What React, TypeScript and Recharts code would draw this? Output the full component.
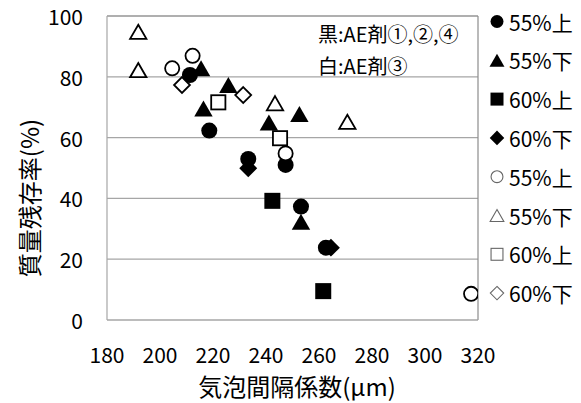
import React from 'react';
import {
  ScatterChart,
  Scatter,
  XAxis,
  YAxis,
  CartesianGrid,
  ReferenceLine,
  Legend,
  Label,
} from 'recharts';

const FONT = '"Noto Sans CJK JP", "Noto Sans", sans-serif';

// 気泡間隔係数 (μm) → x, 質量残存率 (%) → y
// 黒: AE剤①,②,④
const black55Upper = [
  { x: 211.3, y: 80.6 },
  { x: 218.6, y: 62.3 },
  { x: 233.3, y: 53.0 },
  { x: 247.4, y: 51.0 },
  { x: 253.2, y: 37.3 },
  { x: 262.6, y: 23.8 },
];
const black55Lower = [
  { x: 215.5, y: 82.8 },
  { x: 216.4, y: 69.6 },
  { x: 225.8, y: 77.3 },
  { x: 241.1, y: 65.0 },
  { x: 252.6, y: 67.8 },
  { x: 253.2, y: 32.3 },
];
const black60Upper = [
  { x: 242.4, y: 39.2 },
  { x: 261.6, y: 9.5 },
];
const black60Lower = [
  { x: 233.3, y: 49.9 },
  { x: 264.5, y: 23.8 },
];
// 白: AE剤③
const white55Upper = [
  { x: 204.6, y: 82.8 },
  { x: 212.3, y: 86.9 },
  { x: 247.4, y: 54.8 },
  { x: 317.4, y: 8.6 },
];
const white55Lower = [
  { x: 191.8, y: 94.8 },
  { x: 191.8, y: 82.2 },
  { x: 243.4, y: 71.3 },
  { x: 270.7, y: 65.2 },
];
const white60Upper = [
  { x: 222.0, y: 71.6 },
  { x: 245.3, y: 59.8 },
];
const white60Lower = [
  { x: 208.3, y: 77.3 },
  { x: 231.4, y: 74.0 },
];

const xTicks = [180, 200, 220, 240, 260, 280, 300, 320];
const yTicks = [0, 20, 40, 60, 80, 100];

const xTitle = '気泡間隔係数(μm)';
const yTitle = '質量残存率(%)';
const noteLines = ['黒:AE剤①,②,④', '白:AE剤③'];

type Kind = 'circle' | 'triangle' | 'square' | 'diamond';

interface SeriesDef {
  name: string;
  kind: Kind;
  filled: boolean;
  data: { x: number; y: number }[];
}

const series: SeriesDef[] = [
  { name: '55%上', kind: 'circle', filled: true, data: black55Upper },
  { name: '55%下', kind: 'triangle', filled: true, data: black55Lower },
  { name: '60%上', kind: 'square', filled: true, data: black60Upper },
  { name: '60%下', kind: 'diamond', filled: true, data: black60Lower },
  { name: '55%上', kind: 'circle', filled: false, data: white55Upper },
  { name: '55%下', kind: 'triangle', filled: false, data: white55Lower },
  { name: '60%上', kind: 'square', filled: false, data: white60Upper },
  { name: '60%下', kind: 'diamond', filled: false, data: white60Lower },
];

const GRID = '#a6a6a6';
const BORDER = '#8c8c8c';

function Marker({
  cx,
  cy,
  kind,
  filled,
  half,
  stroke,
  strokeWidth,
}: {
  cx: number;
  cy: number;
  kind: Kind;
  filled: boolean;
  half: number;
  stroke: string;
  strokeWidth: number;
}) {
  const fill = filled ? '#000' : '#fff';
  const sw = filled ? 0 : strokeWidth;
  const h = half - sw / 2;
  const common = { fill, stroke: filled ? 'none' : stroke, strokeWidth: sw };
  switch (kind) {
    case 'circle':
      return <circle cx={cx} cy={cy} r={h} {...common} />;
    case 'square':
      return <rect x={cx - h} y={cy - h} width={2 * h} height={2 * h} {...common} />;
    case 'diamond': {
      const d = h * 1.12;
      return (
        <polygon
          points={`${cx},${cy - d} ${cx + d},${cy} ${cx},${cy + d} ${cx - d},${cy}`}
          {...common}
        />
      );
    }
    case 'triangle':
    default: {
      const w = h * 1.15;
      return (
        <polygon
          points={`${cx},${cy - h} ${cx + w},${cy + h} ${cx - w},${cy + h}`}
          strokeLinejoin="miter"
          {...common}
        />
      );
    }
  }
}

const YTick = (p: any) => (
  <text
    x={83}
    y={p.y}
    textAnchor="end"
    dominantBaseline="central"
    fontSize={21}
    fontFamily={FONT}
    fill="#000"
  >
    {p.payload.value}
  </text>
);

const XTick = (p: any) => (
  <text
    x={p.x}
    y={354}
    textAnchor="middle"
    dominantBaseline="central"
    fontSize={21}
    fontFamily={FONT}
    fill="#000"
  >
    {p.payload.value}
  </text>
);

const LegendBox = () => (
  <svg width={99} height={320} style={{ display: 'block' }}>
    {series.map((s, i) => {
      const cy = 21.5 + i * 38.8;
      return (
        <g key={i}>
          <Marker
            cx={15}
            cy={cy}
            kind={s.kind}
            filled={s.filled}
            half={6.5}
            stroke="#666"
            strokeWidth={1.1}
          />
          <text
            x={27}
            y={cy}
            dominantBaseline="central"
            fontSize={21}
            fontFamily={FONT}
            fill="#000"
          >
            {s.name}
          </text>
        </g>
      );
    })}
  </svg>
);

export default function App() {
  return (
    <div style={{ position: 'absolute', left: 0, top: 0, width: 581, height: 403, background: '#fff' }}>
      <ScatterChart
        width={581}
        height={403}
        margin={{ top: 16, right: 103, bottom: 0, left: 0 }}
        style={{ fontFamily: FONT }}
      >
        <CartesianGrid horizontal vertical={false} stroke={GRID} strokeWidth={1.2} />
        <XAxis
          type="number"
          dataKey="x"
          domain={[180, 320]}
          ticks={xTicks}
          interval={0}
          height={83}
          axisLine={{ stroke: GRID, strokeWidth: 1.2 }}
          tickLine={false}
          tick={<XTick />}
          allowDataOverflow
        >
          <Label
            content={() => (
              <text
                x={297}
                y={385}
                textAnchor="middle"
                dominantBaseline="central"
                fontSize={24}
                fontFamily={FONT}
                fill="#000"
              >
                {xTitle}
              </text>
            )}
          />
        </XAxis>
        <YAxis
          type="number"
          dataKey="y"
          domain={[0, 100]}
          ticks={yTicks}
          interval={0}
          width={107}
          axisLine={{ stroke: GRID, strokeWidth: 1.2 }}
          tickLine={false}
          tick={<YTick />}
          allowDataOverflow
        >
          <Label
            content={() => (
              <text
                x={28}
                y={198}
                transform="rotate(-90, 28, 198)"
                textAnchor="middle"
                dominantBaseline="central"
                fontSize={24}
                fontFamily={FONT}
                fill="#000"
              >
                {yTitle}
              </text>
            )}
          />
        </YAxis>
        <ReferenceLine
          y={100}
          stroke={BORDER}
          strokeWidth={1.2}
          label={(props: any) => {
            const vb = props.viewBox || { x: 107, y: 16, width: 371 };
            const left = vb.x + vb.width - 160;
            return (
              <g>
                {noteLines.map((t, i) => (
                  <text
                    key={i}
                    x={left}
                    y={vb.y + 17 + i * 32}
                    dominantBaseline="central"
                    fontSize={20}
                    fontFamily={FONT}
                    fill="#000"
                  >
                    {t}
                  </text>
                ))}
              </g>
            );
          }}
        />
        <ReferenceLine x={320} stroke={BORDER} strokeWidth={1.2} />
        {series.map((s, i) => (
          <Scatter
            key={i}
            name={s.name}
            data={s.data}
            isAnimationActive={false}
            shape={(props: any) => (
              <Marker
                cx={props.cx}
                cy={props.cy}
                kind={s.kind}
                filled={s.filled}
                half={8}
                stroke="#000"
                strokeWidth={1.8}
              />
            )}
          />
        ))}
        <Legend
          layout="horizontal"
          verticalAlign="middle"
          align="center"
          wrapperStyle={{ position: 'absolute', left: 482, top: 0, width: 99, height: 320 }}
          content={() => <LegendBox />}
        />
      </ScatterChart>
    </div>
  );
}
